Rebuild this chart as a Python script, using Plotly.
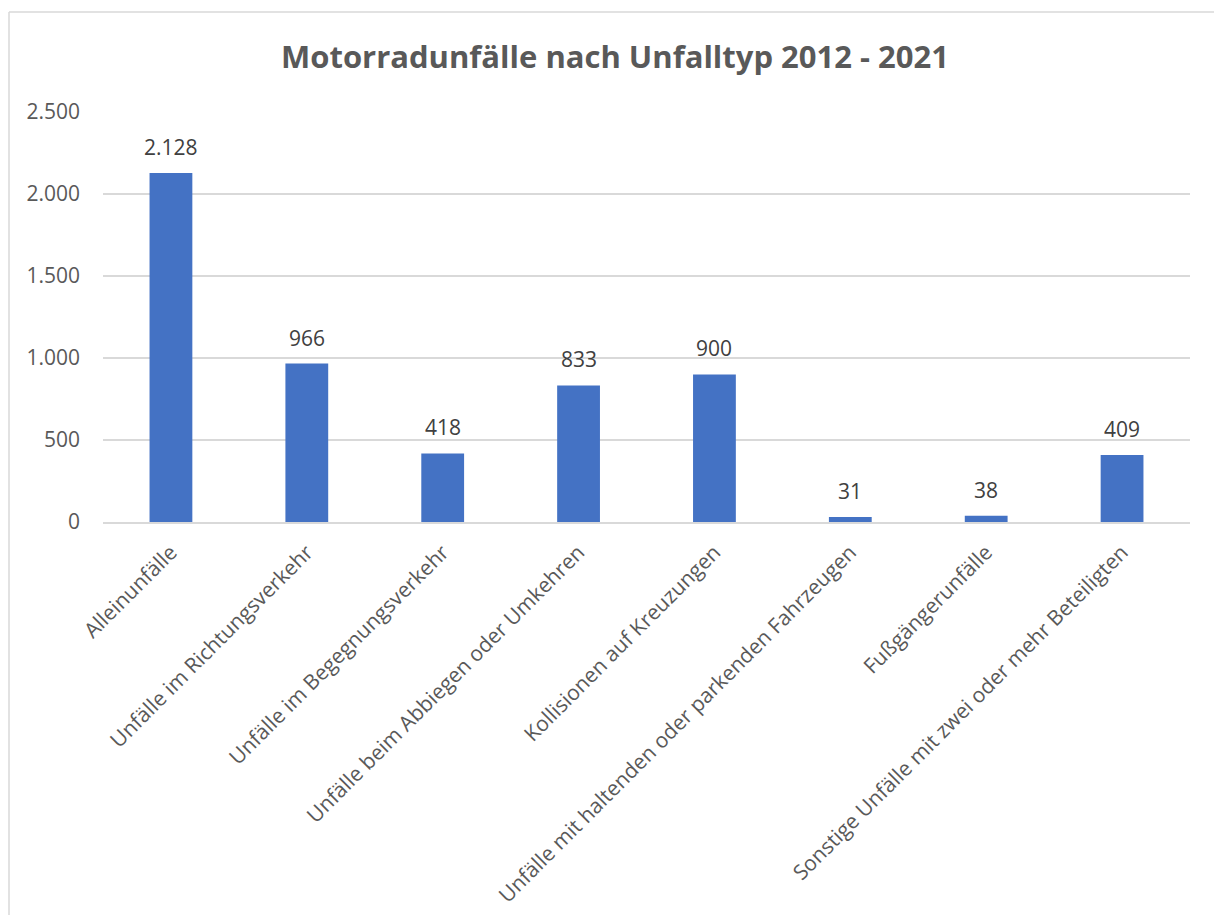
import plotly.graph_objects as go

categories = [
    "Alleinunfälle",
    "Unfälle im Richtungsverkehr",
    "Unfälle im Begegnungsverkehr",
    "Unfälle beim Abbiegen oder Umkehren",
    "Kollisionen auf Kreuzungen",
    "Unfälle mit haltenden oder parkenden Fahrzeugen",
    "Fußgängerunfälle",
    "Sonstige Unfälle mit zwei oder mehr Beteiligten",
]
values = [2128, 966, 418, 833, 900, 31, 38, 409]
y_ticks = [0, 500, 1000, 1500, 2000, 2500]
y_tick_labels = ["0", "500", "1.000", "1.500", "2.000", "2.500"]
title = "Motorradunfälle nach Unfalltyp 2012 - 2021"

FONT = "Open Sans"
L, R, T, B = 103, 24, 112, 393
W, H = 1214, 915
pw, ph = W - L - R, H - T - B

def px_x(p):
    return (p - L) / pw

def px_y(p):
    return (H - B - p) / ph

fig = go.Figure()
fig.add_trace(go.Bar(
    x=categories, y=values,
    marker=dict(color="#4472C4", line=dict(width=0)),
    hoverinfo="x+y",
))

annotations = []
for c, v in zip(categories, values):
    annotations.append(dict(
        x=c, y=v, xref="x", yref="y",
        text=f"{v:,}".replace(",", "."),
        showarrow=False, yanchor="middle", yshift=26,
        font=dict(family=FONT, size=21, color="#404040"),
    ))

bx, by_top, by_bot, bx_r = px_x(9), px_y(12), px_y(916), px_x(1216)
shapes = [
    dict(type="line", xref="paper", yref="paper", x0=bx, x1=bx, y0=by_bot, y1=by_top,
         line=dict(color="#D9D9D9", width=1.5)),
    dict(type="line", xref="paper", yref="paper", x0=bx, x1=bx_r, y0=by_top, y1=by_top,
         line=dict(color="#D9D9D9", width=1.5)),
]

fig.update_layout(
    width=W, height=H,
    margin=dict(l=L, r=R, t=T, b=B, autoexpand=False),
    paper_bgcolor="white", plot_bgcolor="white",
    separators=",.",
    bargap=0.685,
    showlegend=False,
    title=dict(text=f"<b>{title}</b>", x=615 / W, xanchor="center",
               y=1 - 57 / H, yanchor="middle",
               font=dict(family=FONT, size=31, color="#595959")),
    xaxis=dict(
        tickangle=-45, tickfont=dict(family=FONT, size=21, color="#595959"),
        showgrid=False, showline=True, linecolor="#D9D9D9", linewidth=1.5,
        ticks="", automargin=False, ticklabelstandoff=8,
    ),
    yaxis=dict(
        range=[0, 2500], tickvals=y_ticks, ticktext=y_tick_labels,
        tickfont=dict(family=FONT, size=21, color="#595959"),
        showgrid=True, gridcolor="#D9D9D9", gridwidth=1.5,
        zeroline=False, showline=False, ticks="", ticklabelstandoff=22,
        automargin=False,
    ),
    annotations=annotations,
    shapes=shapes,
)

fig.write_html("out.html")
